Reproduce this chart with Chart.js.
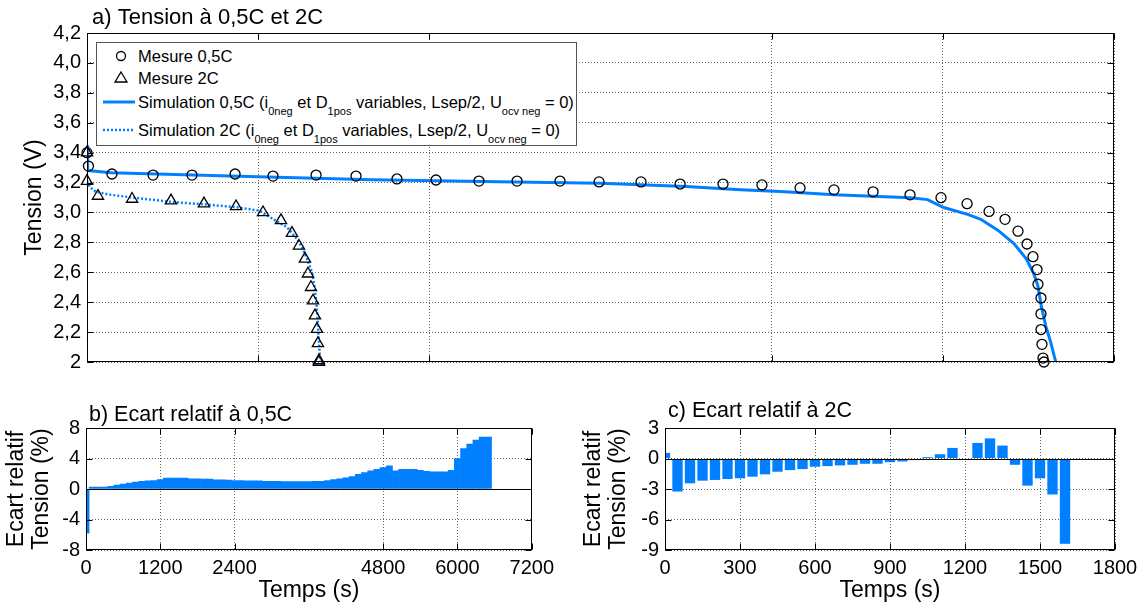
<!DOCTYPE html>
<html>
<head>
<meta charset="utf-8">
<script src="https://cdn.jsdelivr.net/npm/chart.js@4.4.1/dist/chart.umd.min.js"></script>
<style>
  body { margin: 0; background: #fff; width: 1144px; height: 603px; position: relative; overflow: hidden;
         font-family: 'Liberation Sans', Arial, sans-serif; }
  canvas { position: absolute; }
  #chartA { left: 0; top: 0; }
  #chartB { left: 0; top: 380px; }
  #chartC { left: 560px; top: 380px; }
  #legendA { position: absolute; left: 96px; top: 42px; width: 479px; height: 102px; border: 1px solid #555;
             background: #fff; font-size: 16.5px; color: #000; }
  .row { position: absolute; left: 0; height: 20px; line-height: 20px; white-space: nowrap; }
  .row:nth-child(1) { top: 3px; }
  .row:nth-child(2) { top: 25px; }
  .row:nth-child(3) { top: 49px; }
  .row:nth-child(4) { top: 77px; }
  .row svg { position: absolute; left: 4px; top: 0; }
  .row span { position: absolute; left: 41px; top: 0; }
  sub { font-size: 11px; vertical-align: baseline; position: relative; top: 7px; }
</style>
</head>
<body>
<canvas id="chartA" width="1144" height="380"></canvas>
<canvas id="chartB" width="560" height="223"></canvas>
<canvas id="chartC" width="584" height="223"></canvas>
<div id="legendA"></div>
<script>
// ---- a) Tension (V) vs temps (s)
const mes05T = [0, 10, 175, 463, 736, 1038, 1304, 1606, 1886, 2173, 2447, 2748, 3015, 3316, 3590, 3884, 4158, 4459,
  4732, 4999, 5237, 5511, 5770, 5987, 6170, 6324, 6436, 6527, 6590, 6632, 6660, 6667, 6688, 6688, 6688, 6695, 6702, 6709];
const mes05V = [3.40, 3.31, 3.257, 3.25, 3.25, 3.257, 3.243, 3.25, 3.243, 3.224, 3.217, 3.21, 3.21, 3.21, 3.204, 3.204, 3.19, 3.19,
  3.184, 3.164, 3.151, 3.138, 3.118, 3.099, 3.059, 3.007, 2.954, 2.875, 2.789, 2.704, 2.618, 2.52, 2.428, 2.322, 2.217, 2.118, 2.026, 2.0];

const mes2T = [0, 0, 77, 316, 589, 820, 1045, 1234, 1360, 1437, 1486, 1528, 1549, 1570, 1584, 1598, 1612, 1619, 1626, 1626];
const mes2V = [3.40, 3.21, 3.11, 3.09, 3.079, 3.059, 3.04, 3.0, 2.947, 2.862, 2.776, 2.69, 2.59, 2.5, 2.41, 2.31, 2.22, 2.125, 2.01, 2.0];

const sim05T = [0, 5, 170, 1000, 2000, 3000, 3600, 4200, 4580, 4860, 5240, 5774, 5893, 6006, 6174, 6266, 6388, 6500,
  6585, 6638, 6666, 6690, 6722, 6757, 6792];
const sim05V = [3.45, 3.28, 3.265, 3.243, 3.218, 3.204, 3.195, 3.173, 3.152, 3.14, 3.118, 3.099, 3.086, 3.033, 2.987, 2.954, 2.88, 2.79,
  2.69, 2.59, 2.51, 2.375, 2.24, 2.13, 2.0];

const sim2T = [0, 20, 60, 150, 316, 597, 836, 1047, 1208, 1285, 1404, 1474, 1516, 1551, 1580, 1594, 1608, 1615, 1622, 1629, 1636];
const sim2V = [3.21, 3.17, 3.14, 3.12, 3.10, 3.07, 3.053, 3.035, 3.012, 2.967, 2.90, 2.82, 2.75, 2.67, 2.59, 2.51, 2.39, 2.31, 2.20, 2.09, 2.0];

const xTicksA = [0, 1200, 2400, 4800, 6000, 7200];
const yTicksA = [2, 2.2, 2.4, 2.6, 2.8, 3.0, 3.2, 3.4, 3.6, 3.8, 4.0, 4.2];
const yTickLabelsA = ['2', '2,2', '2,4', '2,6', '2,8', '3,0', '3,2', '3,4', '3,6', '3,8', '4,0', '4,2'];

const legendHtml = [
  'Mesure 0,5C',
  'Mesure 2C',
  'Simulation 0,5C (i<sub>0neg</sub> et D<sub>1pos</sub> variables, Lsep/2, U<sub>ocv neg</sub> = 0)',
  'Simulation 2C (i<sub>0neg</sub> et D<sub>1pos</sub> variables, Lsep/2, U<sub>ocv neg</sub> = 0)'
];

// ---- b) Ecart relatif à 0,5C (%)
const tB = [0, 100, 200, 300, 400, 500, 600, 700, 800, 900, 1000, 1100, 1200, 1300, 1400, 1500, 1600, 1700, 1800, 1900,
  2000, 2100, 2200, 2300, 2400, 2500, 2600, 2700, 2800, 2900, 3000, 3100, 3200, 3300, 3400, 3500, 3600, 3700, 3800, 3900,
  4000, 4100, 4200, 4300, 4400, 4500, 4600, 4700, 4800, 4900, 5000, 5100, 5200, 5300, 5400, 5500, 5600, 5700, 5800, 5900,
  6000, 6100, 6200, 6300, 6400, 6500];
const ecartB = [-5.8, 0.26, 0.26, 0.26, 0.34, 0.52, 0.65, 0.77, 0.9, 0.99, 1.08, 1.12, 1.25, 1.42, 1.42, 1.42, 1.42, 1.33, 1.33, 1.29,
  1.29, 1.2, 1.2, 1.16, 1.12, 1.12, 1.08, 1.08, 1.08, 0.99, 0.99, 0.99, 0.98, 0.98, 0.98, 0.98, 0.98, 0.99, 1.0, 1.12,
  1.25, 1.33, 1.46, 1.63, 1.94, 2.15, 2.37, 2.58, 2.8, 3.05, 2.37, 2.58, 2.58, 2.58, 2.45, 2.32, 2.24, 2.24, 2.24, 2.45,
  4.0, 5.3, 5.9, 6.4, 6.8, 6.8];
const xTicksB = [0, 1200, 2400, 4800, 6000, 7200];
const yTicksB = [-8, -4, 0, 4, 8];

// ---- c) Ecart relatif à 2C (%)
const tC = [0, 50, 100, 150, 200, 250, 300, 350, 400, 450, 500, 550, 600, 650, 700, 750, 800, 850, 900, 950,
  1000, 1050, 1100, 1150, 1200, 1250, 1300, 1350, 1400, 1450, 1500, 1550, 1600];
const ecartC = [0.55, -3.25, -2.44, -2.18, -2.11, -2.02, -1.95, -1.79, -1.56, -1.3, -1.14, -1.04, -0.81, -0.75, -0.68, -0.62, -0.52, -0.52, -0.36, -0.29,
  -0.16, 0.13, 0.42, 1.04, 0, 1.53, 1.98, 1.27, -0.62, -2.67, -1.95, -3.54, -8.39];
const xTicksC = [0, 300, 600, 900, 1200, 1500, 1800];
const yTicksC = [-9, -6, -3, 0, 3];

const blue = '#0080ff';
Chart.defaults.font.family = "'Liberation Sans', Arial, sans-serif";
Chart.defaults.font.size = 20;
Chart.defaults.color = '#000';

const pts = (xs, ys) => xs.map((x, i) => ({x: x, y: ys[i]}));
const setTicks = vals => scale => { scale.ticks = vals.map(v => ({value: v})); };

// MATLAB-like box with inside tick marks, plus optional zero line
const frame = {
  id: 'frame',
  afterDatasetsDraw(chart, args, opts) {
    const {ctx, chartArea: a, scales: {x, y}} = chart;
    const L = Math.round(a.left) + 0.5, R = Math.round(a.right) - 0.5;
    const T = Math.round(a.top) + 0.5, B = Math.round(a.bottom) - 0.5;
    ctx.save();
    ctx.strokeStyle = '#000';
    ctx.lineWidth = 1;
    ctx.beginPath();
    if (opts.zeroLine) {
      const y0 = Math.round(y.getPixelForValue(0)) + 0.5;
      ctx.moveTo(L, y0); ctx.lineTo(R, y0);
    }
    x.ticks.forEach(t => {
      const px = Math.round(x.getPixelForValue(t.value)) + 0.5;
      ctx.moveTo(px, B); ctx.lineTo(px, B - 6);
      ctx.moveTo(px, T); ctx.lineTo(px, T + 6);
    });
    y.ticks.forEach(t => {
      const py = Math.round(y.getPixelForValue(t.value)) + 0.5;
      ctx.moveTo(L, py); ctx.lineTo(L + 6, py);
      ctx.moveTo(R, py); ctx.lineTo(R - 6, py);
    });
    ctx.stroke();
    ctx.strokeRect(L, T, R - L, B - T);
    ctx.restore();
  }
};

const panelTitle = {
  id: 'panelTitle',
  afterDraw(chart, args, opts) {
    const {ctx, chartArea: a} = chart;
    ctx.save();
    ctx.font = opts.size + "px 'Liberation Sans', Arial, sans-serif";
    ctx.fillStyle = '#000';
    ctx.textBaseline = 'middle';
    ctx.fillText(opts.text, a.left + opts.dx, a.top - opts.dy);
    ctx.restore();
  }
};

const gridOpts = {color: '#666', lineWidth: 1, drawTicks: false, offset: false};
const borderOpts = {display: false, dash: [1, 2]};
const axisTitleFont = {size: 23, lineHeight: 1.1};

const chartA = new Chart(document.getElementById('chartA'), {
  type: 'line',
  data: {
    datasets: [
      {label: 'Mesure 0,5C', data: pts(mes05T, mes05V), showLine: false, pointStyle: 'circle', pointRadius: 5,
       pointBorderWidth: 1.3, pointBorderColor: '#000', pointBackgroundColor: 'rgba(0,0,0,0)', clip: false},
      {label: 'Mesure 2C', data: pts(mes2T, mes2V), showLine: false, pointStyle: 'triangle', pointRadius: 6.5,
       pointBorderWidth: 1.3, pointBorderColor: '#000', pointBackgroundColor: 'rgba(0,0,0,0)', clip: false},
      {label: 'Simulation 0,5C', data: pts(sim05T, sim05V), borderColor: blue, borderWidth: 3, pointRadius: 0},
      {label: 'Simulation 2C', data: pts(sim2T, sim2V), borderColor: blue, borderWidth: 2.5, borderDash: [2, 2], pointRadius: 0}
    ]
  },
  options: {
    responsive: false,
    animation: false,
    events: [],
    layout: {padding: {top: 33, right: 30, left: 0, bottom: 0}},
    plugins: {
      legend: {display: false},
      tooltip: {enabled: false},
      frame: {},
      panelTitle: {text: 'a) Tension à 0,5C et 2C', dx: 5, dy: 15, size: 22}
    },
    scales: {
      x: {
        type: 'linear', min: 0, max: 7200,
        afterBuildTicks: setTicks(xTicksA),
        afterFit: s => { s.height = 13; },
        ticks: {display: false},
        grid: gridOpts, border: borderOpts
      },
      y: {
        min: 2, max: 4.2,
        afterBuildTicks: setTicks(yTicksA),
        afterFit: s => { s.width = 87; },
        ticks: {padding: 6, callback: (v, i) => yTickLabelsA[i]},
        title: {display: true, text: 'Tension (V)', font: {size: 23}, padding: {top: 21, bottom: 0}},
        grid: gridOpts, border: borderOpts
      }
    }
  },
  plugins: [frame, panelTitle]
});

// legend built from the datasets, with subscripts as real text
function legendIcon(ds) {
  if (ds.showLine === false) {
    const shape = ds.pointStyle === 'triangle'
      ? '<polygon points="20,4 26,14 14,14" fill="none" stroke="#000" stroke-width="1.3"/>'
      : '<circle cx="20" cy="10" r="4.5" fill="none" stroke="#000" stroke-width="1.3"/>';
    return '<svg width="40" height="20">' + shape + '</svg>';
  }
  const dash = ds.borderDash ? ' stroke-dasharray="' + ds.borderDash.join(',') + '"' : '';
  return '<svg width="40" height="20"><line x1="2" y1="10" x2="34" y2="10" stroke="' + ds.borderColor +
    '" stroke-width="' + ds.borderWidth + '"' + dash + '/></svg>';
}
document.getElementById('legendA').innerHTML = chartA.data.datasets.map((ds, i) =>
  '<div class="row">' + legendIcon(ds) + '<span>' + legendHtml[i] + '</span></div>').join('');

function ecartChart(id, ts, vals, xMax, xTicks, yTicks, yAxisWidth, titlePad, barPct, title, titleDy) {
  return new Chart(document.getElementById(id), {
    type: 'bar',
    data: {
      datasets: [{data: pts(ts, vals), backgroundColor: blue, borderWidth: 0, barPercentage: barPct, categoryPercentage: 1}]
    },
    options: {
      responsive: false,
      animation: false,
      events: [],
      layout: {padding: {top: 48, right: id === 'chartB' ? 28 : 29, left: 0, bottom: 0}},
      plugins: {
        legend: {display: false},
        tooltip: {enabled: false},
        frame: {zeroLine: true},
        panelTitle: {text: title, dx: 3, dy: titleDy, size: 21.5}
      },
      scales: {
        x: {
          type: 'linear', min: 0, max: xMax, offset: false,
          afterBuildTicks: setTicks(xTicks),
          afterFit: s => { s.height = 53; },
          ticks: {padding: 6, autoSkip: false, maxRotation: 0, callback: v => String(v)},
          title: {display: true, text: 'Temps (s)', font: axisTitleFont, padding: {top: 0, bottom: 0}},
          grid: gridOpts, border: borderOpts
        },
        y: {
          min: yTicks[0], max: yTicks[yTicks.length - 1],
          afterBuildTicks: setTicks(yTicks),
          afterFit: s => { s.width = yAxisWidth; },
          ticks: {padding: 6, callback: v => String(v)},
          title: {display: true, text: ['Ecart relatif', 'Tension (%)'], font: axisTitleFont, padding: {top: titlePad, bottom: 0}},
          grid: gridOpts, border: borderOpts
        }
      }
    },
    plugins: [frame, panelTitle]
  });
}

ecartChart('chartB', tB, ecartB, 7200, xTicksB, yTicksB, 86, 4, 1, 'b) Ecart relatif à 0,5C', 13);
ecartChart('chartC', tC, ecartC, 1800, xTicksC, yTicksC, 105, 21, 0.83, 'c) Ecart relatif à 2C', 17);
</script>
</body>
</html>
